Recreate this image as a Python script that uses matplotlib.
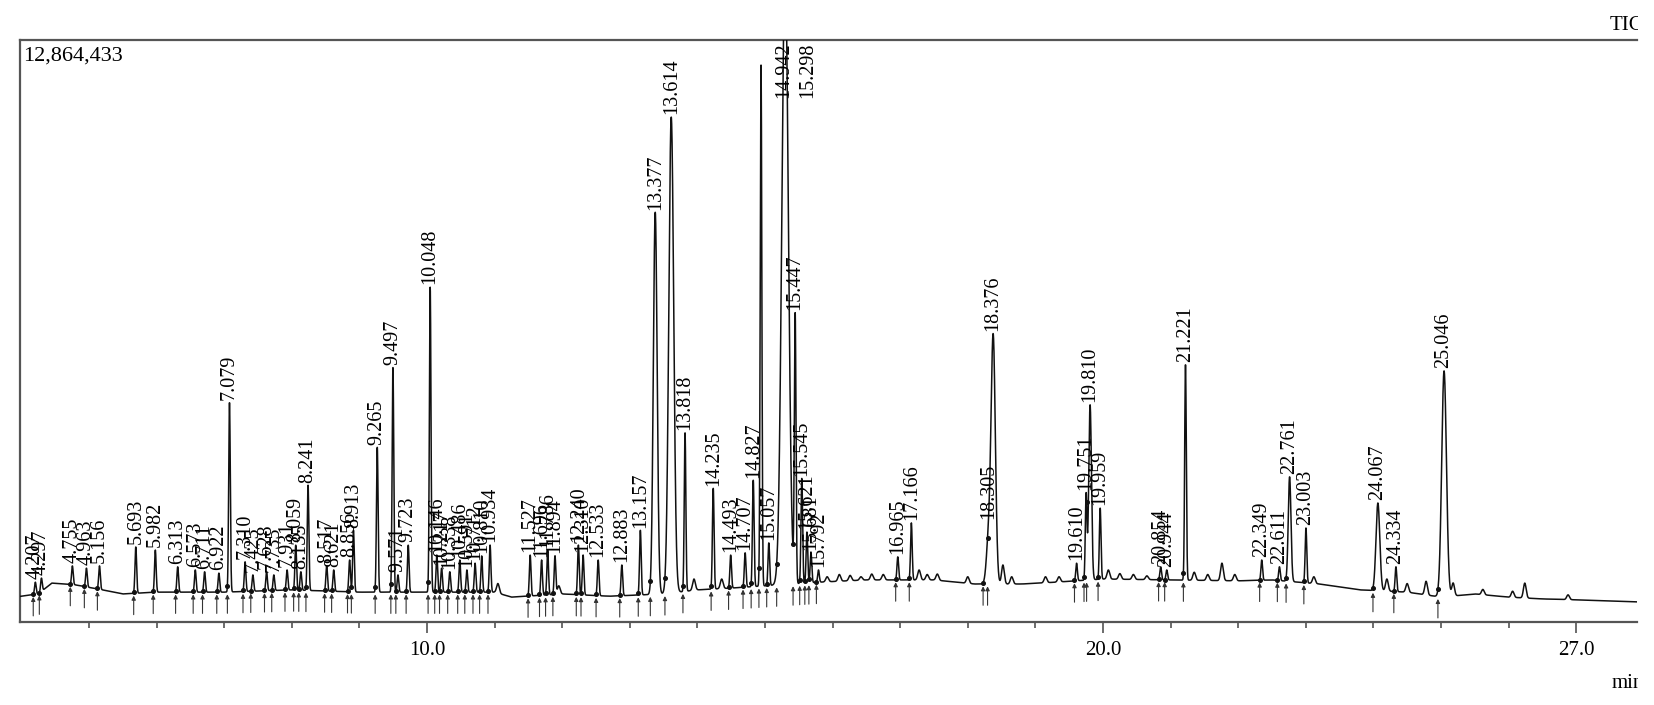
import numpy as np
import matplotlib.pyplot as plt
from matplotlib.transforms import Bbox, TransformedBbox

# labelled peaks: retention time (min) and apex intensity (x 1e6 counts)
peak_rt = [4.207, 4.297, 4.755, 4.963, 5.156, 5.693, 5.982, 6.313, 6.573, 6.711,
           6.922, 7.079, 7.310, 7.425, 7.628, 7.735, 7.931, 8.059, 8.135, 8.241,
           8.517, 8.621, 8.856, 8.913, 9.265, 9.497, 9.571, 9.723, 10.048, 10.146,
           10.217, 10.338, 10.486, 10.591, 10.712, 10.810, 10.934, 11.527, 11.696, 11.786,
           11.894, 12.240, 12.310, 12.533, 12.883, 13.157, 13.377, 13.614, 13.818, 14.235,
           14.493, 14.707, 14.827, 14.942, 15.057, 15.298, 15.447, 15.545, 15.621, 15.681,
           15.792, 16.965, 17.166, 18.305, 18.376, 19.610, 19.751, 19.810, 19.959, 20.854,
           20.944, 21.221, 22.349, 22.611, 22.761, 23.003, 24.067, 24.334, 25.046]
peak_top = [0.88, 0.97, 1.24, 1.19, 1.24, 1.66, 1.59, 1.22, 1.15, 1.11,
            1.08, 4.86, 1.33, 1.04, 1.11, 1.04, 1.15, 1.70, 1.11, 3.03,
            1.24, 1.15, 1.37, 2.03, 3.87, 5.64, 1.04, 1.70, 7.40, 1.48,
            1.19, 1.11, 1.37, 1.15, 1.30, 1.46, 1.70, 1.48, 1.37, 1.59,
            1.46, 1.70, 1.48, 1.37, 1.26, 2.03, 9.06, 11.16, 4.18, 2.96,
            1.48, 1.53, 3.14, 12.31, 1.75, 14.5, 6.74, 3.18, 1.99, 1.53,
            1.15, 1.44, 2.19, 1.75, 6.32, 1.30, 2.81, 4.80, 2.52, 1.22,
            1.15, 5.70, 1.37, 1.22, 3.21, 2.08, 2.63, 1.22, 5.55]
# peaks that are wider than the usual ~0.012 min
wide_rt = [13.377, 13.614, 15.298, 18.305, 18.376, 19.810, 22.761, 24.067, 25.046]
wide_sigma = [0.028, 0.036, 0.048, 0.03, 0.032, 0.02, 0.02, 0.028, 0.035]

# small unlabelled bumps on the baseline
bump_rt = [11.05, 11.95, 13.95, 14.36, 15.92, 16.10, 16.26, 16.42, 16.58, 16.75,
           17.28, 17.40, 17.55, 18.00, 18.52, 18.65, 19.15, 19.35, 20.08, 20.25,
           20.45, 20.65, 21.35, 21.55, 21.76, 21.95, 23.12, 24.20, 24.50, 24.78,
           25.18, 25.62, 26.06, 26.24, 26.88]
bump_top = [0.85, 0.80, 0.95, 0.95, 1.00, 1.05, 1.03, 1.00, 1.06, 1.05,
            1.15, 1.05, 1.06, 1.00, 1.26, 1.00, 1.00, 1.00, 1.15, 1.07,
            1.05, 1.02, 1.10, 1.05, 1.30, 1.05, 1.00, 0.95, 0.85, 0.90,
            0.86, 0.72, 0.68, 0.86, 0.60]

# drifting baseline
base_t = [3.9, 4.25, 4.45, 4.8, 5.2, 5.5, 6.0, 7.0, 8.0, 9.0, 10.0, 11.0, 11.25, 12.0,
          12.7, 13.5, 14.0, 14.5, 15.2, 15.8, 16.5, 17.5, 18.1, 18.8, 19.3, 20.0,
          21.0, 22.0, 22.5, 23.2, 23.8, 24.5, 25.0, 25.5, 26.0, 26.5, 27.0, 28.0]
base_v = [0.55, 0.62, 0.86, 0.82, 0.71, 0.62, 0.66, 0.66, 0.71, 0.66, 0.66, 0.66, 0.55, 0.62,
          0.57, 0.62, 0.71, 0.75, 0.82, 0.88, 0.93, 0.93, 0.84, 0.84, 0.88, 0.95,
          0.93, 0.91, 0.93, 0.84, 0.71, 0.66, 0.55, 0.62, 0.55, 0.51, 0.49, 0.44]

y_max = 12.864433
t_min, t_max = 3.98, 27.90


def baseline(t):
    return np.interp(t, base_t, base_v)


t = np.arange(t_min - 0.02, t_max + 0.02, 0.002)
trace = baseline(t)
sigmas = []
for rt, top in zip(peak_rt, peak_top):
    s = wide_sigma[wide_rt.index(rt)] if rt in wide_rt else 0.012
    sigmas.append(s)
    h = max(top - baseline(rt), 0)
    trace = trace + h * np.exp(-0.5 * ((t - rt) / s) ** 2)
for rt, top in zip(bump_rt, bump_top):
    h = max(top - baseline(rt), 0)
    trace = trace + h * np.exp(-0.5 * ((t - rt) / 0.02) ** 2)

fig = plt.figure(figsize=(16.54, 7.05), dpi=100)
ax = fig.add_axes([20 / 1654, 83 / 705, 1617 / 1654, 582 / 705])
ax.plot(t, trace, color="#111111", lw=1.1, zorder=3)

serif = ["Liberation Serif", "DejaVu Serif"]

# peak start markers: arrow under the baseline and a dot on the trace
for rt, s in zip(peak_rt, sigmas):
    b = rt - max(2.6 * s, 0.025)
    yb = baseline(b)
    ax.annotate("", xy=(b, yb - 0.05), xytext=(b, yb - 0.47),
                arrowprops=dict(arrowstyle="-|>", color="#333333", lw=0.8,
                                mutation_scale=6, shrinkA=0, shrinkB=0))
    ax.plot(b, np.interp(b, t, trace), "o", ms=2.6, color="#111111", zorder=4)

# peak labels
for rt in peak_rt:
    top = np.interp(rt, t, trace)
    lab = f"{rt:.3f}"
    if top + 1.35 > y_max:
        # label of a peak running off the top is put inside the frame
        ax.text(rt + 0.33, y_max - 0.05, lab, rotation=90, ha="center", va="top",
                fontsize=14.5, family=serif)
    else:
        ax.annotate(lab, (rt, top), xytext=(0, 2), textcoords="offset points",
                    rotation=90, ha="center", va="bottom", fontsize=14.5,
                    family=serif, annotation_clip=False)

ax.set_xlim(t_min, t_max)
ax.set_ylim(0, y_max)
ax.set_xticks([10, 20, 27])
ax.set_xticklabels(["10.0", "20.0", "27.0"], fontsize=15, family=serif)
ax.set_xticks(range(5, 28), minor=True)
ax.tick_params(axis="x", which="major", length=8, width=1.1, color="#444444", pad=6)
ax.tick_params(axis="x", which="minor", length=4, width=1.1, color="#444444")
ax.set_yticks([])
ax.spines["right"].set_visible(False)
for side in ["top", "left", "bottom"]:
    ax.spines[side].set_color("#555555")
    ax.spines[side].set_linewidth(1.6)

ax.text(0.002, 0.988, "12,864,433", transform=ax.transAxes, ha="left", va="top",
        fontsize=16, family=serif)

# the source image is cut at its right edge
clip = TransformedBbox(Bbox([[0, 0], [1638 / 1654, 1]]), fig.transFigure)
fig.text(1610 / 1654, 1 - 25 / 705, "TIC", ha="left", va="center", fontsize=15,
         family=serif, clip_on=True, clip_box=clip)
fig.text(1612 / 1654, 1 - 683 / 705, "min", ha="left", va="center", fontsize=15,
         family=serif, clip_on=True, clip_box=clip)

fig.savefig("out.png", dpi=100)
